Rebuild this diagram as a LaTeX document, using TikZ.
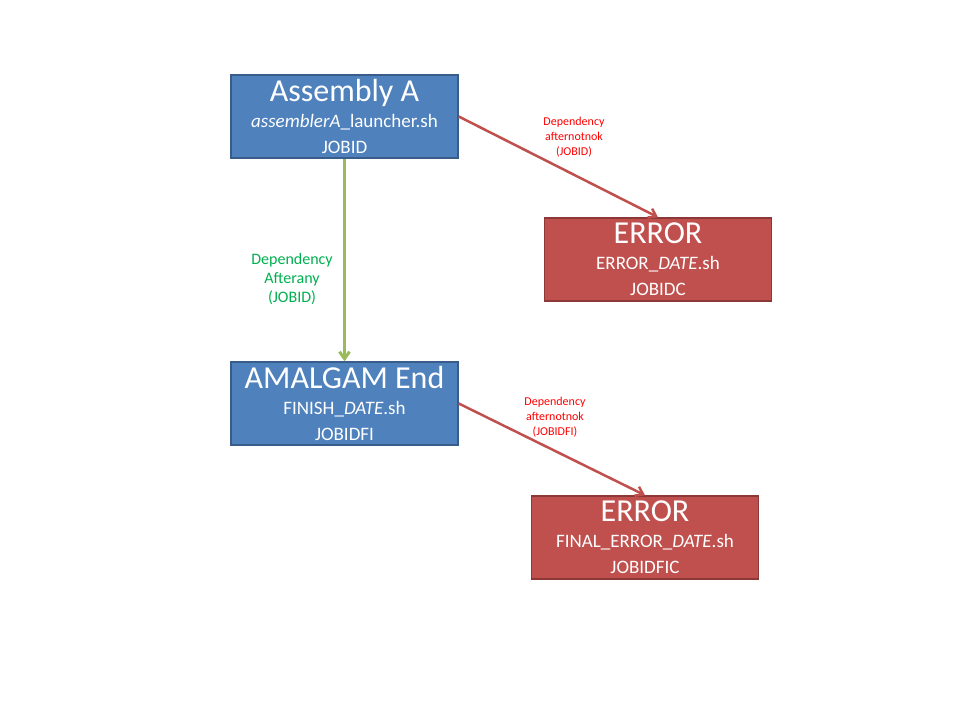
\documentclass[tikz,border=0pt]{standalone}
\usepackage{fontspec}
\setmainfont{Carlito}
\usetikzlibrary{arrows.meta}
\definecolor{jobblue}{HTML}{4F81BD}
\definecolor{jobblueline}{HTML}{385D8A}
\definecolor{jobred}{HTML}{C0504D}
\definecolor{jobredline}{HTML}{8C3836}
\definecolor{depgreen}{HTML}{9BBB59}
\definecolor{deptextgreen}{HTML}{00B050}
\tikzset{
  jobbox/.style={draw=jobblueline, fill=jobblue, line width=1.5pt, text=white,
    minimum width=227pt, minimum height=83pt, inner sep=0pt, align=center,
    font=\fontsize{19}{26}\selectfont},
  errbox/.style={jobbox, draw=jobredline, fill=jobred},
  okdep/.style={draw=depgreen, line width=3pt, -{Straight Barb[length=7pt,width=10pt]}},
  faildep/.style={draw=jobred, line width=2.5pt, -{Straight Barb[length=7pt,width=10pt]}},
  deplabel/.style={align=center, font=\fontsize{12}{15}\selectfont, text=red}
}
\newcommand{\jobtitle}[1]{{\fontsize{32}{30}\selectfont #1}}
\begin{document}
\begin{tikzpicture}[x=1pt,y=1pt]
                \useasboundingbox[fill=white] (0,0) rectangle (960,-720);
                \node[jobbox] (asmA) at (344.5,-116.5) {\jobtitle{Assembly A}\\\textit{assemblerA}\_launcher.sh\\JOBID};
                \node[errbox] (errC) at (658,-259.5) {\jobtitle{ERROR}\\ERROR\_\textit{DATE}.sh\\JOBIDC};
                \node[jobbox] (amalEnd) at (344.5,-403.5) {\jobtitle{AMALGAM End}\\FINISH\_\textit{DATE}.sh\\JOBIDFI};
                \node[errbox] (errFIC) at (645,-537.5) {\jobtitle{ERROR}\\FINAL\_ERROR\_\textit{DATE}.sh\\JOBIDFIC};

                \draw[faildep] (asmA.east) -- (errC.north);
                \draw[okdep] (asmA.south) -- (amalEnd.north);
                \draw[faildep] (amalEnd.east) -- (errFIC.north);

                \node[deplabel] (lblC) at (574,-137) {Dependency\\afternotnok\\(JOBID)};
                \node[deplabel, text=deptextgreen, font=\fontsize{16}{19}\selectfont] (lblAny) at (292,-279) {Dependency\\Afterany\\(JOBID)};
                \node[deplabel] (lblFIC) at (555,-417) {Dependency\\afternotnok\\(JOBIDFI)};
            \end{tikzpicture}
\end{document}
